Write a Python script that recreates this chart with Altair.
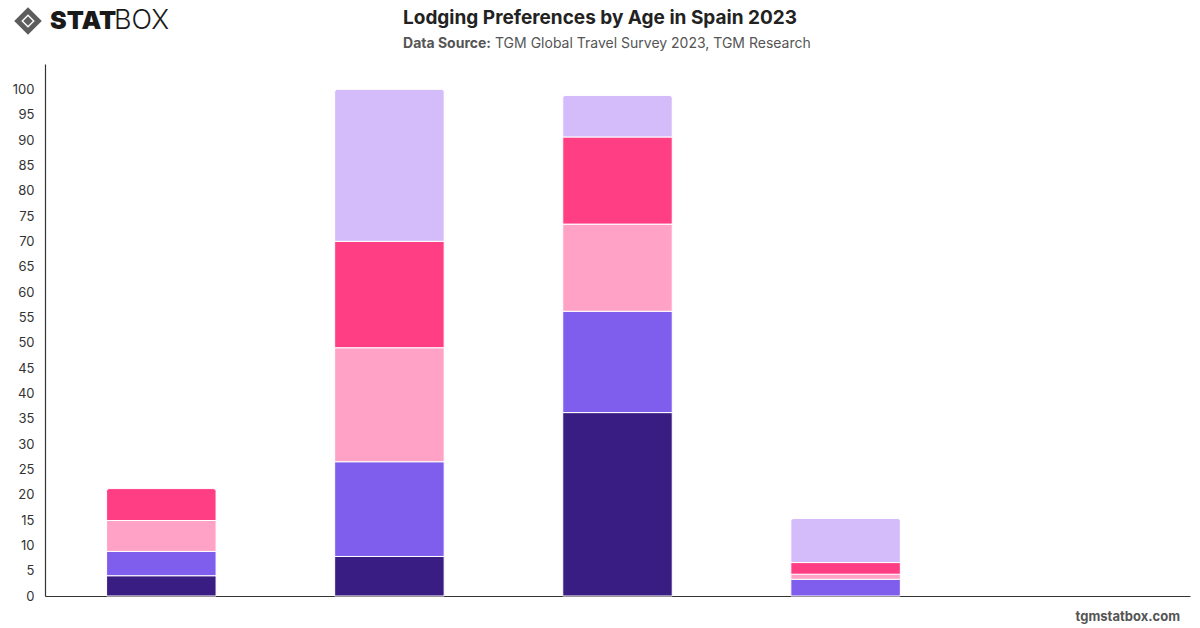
import altair as alt
import pandas as pd

ages = ["18-24", "25-34", "35-44", "45-54", "55+"]
series = ["Hotel", "Vacation rental", "Hostel", "Friends & family", "Other"]
colors = ["#391D83", "#7F5EEE", "#FFA2C5", "#FF3E84", "#D4BBF9"]

hotel = [4.0, 7.8, 36.2, 0.0, 0.0]
rental = [4.8, 18.7, 20.0, 3.3, 0.0]
hostel = [6.1, 22.5, 17.2, 1.0, 0.0]
friends = [6.3, 21.0, 17.2, 2.3, 0.0]
other = [0.0, 30.0, 8.2, 8.7, 0.0]

y_ticks = list(range(0, 101, 5))

title_text = "Lodging Preferences by Age in Spain 2023"
source_label = "Data Source:"
source_text = "TGM Global Travel Survey 2023, TGM Research"
footer_text = "tgmstatbox.com"

rows = []
for si, (name, vals) in enumerate(zip(series, [hotel, rental, hostel, friends, other])):
    for a, v in zip(ages, vals):
        rows.append({"age": a, "series": name, "value": v, "order": si})
df = pd.DataFrame(rows)

FONT = "Inter"

base = (
    alt.Chart(df)
    .transform_filter("datum.value > 0")
    .transform_stack(stack="value", groupby=["age"], as_=["y0", "y1"],
                     sort=[alt.SortField("order", order="ascending")])
    .transform_joinaggregate(top="max(y1)", groupby=["age"])
)

x_enc = alt.X("age:N", scale=alt.Scale(domain=ages, paddingInner=0.52, paddingOuter=0.27),
              axis=alt.Axis(labels=False, ticks=False, title=None, domainColor="#333333", domainWidth=1.2))
y_enc = alt.Y("y1:Q", scale=alt.Scale(domain=[0, 105], nice=False),
              axis=alt.Axis(values=y_ticks, grid=False, ticks=False, title=None,
                            domainColor="#333333", domainWidth=1.2, labelColor="#333333",
                            labelFontSize=13, labelFont=FONT, labelPadding=11))
color_enc = alt.Color("series:N", scale=alt.Scale(domain=series, range=colors), legend=None)

lower = base.transform_filter("datum.y1 < datum.top").mark_bar(stroke="white", strokeWidth=1).encode(
    x=x_enc, y=y_enc, y2="y0:Q", color=color_enc
)
upper = base.transform_filter("datum.y1 >= datum.top").mark_bar(
    stroke="white", strokeWidth=1, cornerRadiusTopLeft=3, cornerRadiusTopRight=3
).encode(x=x_enc, y=y_enc, y2="y0:Q", color=color_enc)


def txt(t, x, y, **kw):
    return alt.Chart(pd.DataFrame({"t": [t]})).mark_text(font=FONT, **kw).encode(
        x=alt.value(x), y=alt.value(y), text="t:N"
    )


title = txt(title_text, 555, -46, fontSize=19, fontWeight="bold", color="#222222", align="center", baseline="middle")
src1 = txt(source_label, 446, -20, fontSize=14, fontWeight="bold", color="#555555", align="right", baseline="middle")
src2 = txt(source_text, 450, -20, fontSize=14, color="#555555", align="left", baseline="middle")
footer = txt(footer_text, 1135, 553, fontSize=13, fontWeight="bold", color="#555555", align="right", baseline="middle")
logo1 = txt("STAT", 5, -43, fontSize=25, fontWeight=900, color="#1a1a1a", align="left", baseline="middle")
logo2 = txt("BOX", 69, -43, fontSize=27, fontWeight=300, color="#1a1a1a", align="left", baseline="middle")
icon = alt.Chart(pd.DataFrame({"t": [1]})).mark_point(
    shape="diamond", size=420, filled=False, strokeWidth=5, color="#1a1a1a"
).encode(x=alt.value(-17), y=alt.value(-43))
icon2 = alt.Chart(pd.DataFrame({"t": [1]})).mark_point(
    shape="diamond", size=90, filled=True, color="#1a1a1a"
).encode(x=alt.value(-17), y=alt.value(-43))

chart = (
    alt.layer(lower, upper, title, src1, src2, footer, logo1, logo2, icon, icon2)
    .properties(width=1145, height=532, autosize=alt.AutoSizeParams(type="none"),
                padding={"left": 45, "top": 64, "right": 10, "bottom": 32},
                view=alt.ViewBackground(stroke="transparent", strokeWidth=0))
    .configure_view(strokeWidth=0, stroke="transparent")
    .configure(background="white")
)

chart.save("out.html", embed_options={"renderer": "svg", "actions": False})
